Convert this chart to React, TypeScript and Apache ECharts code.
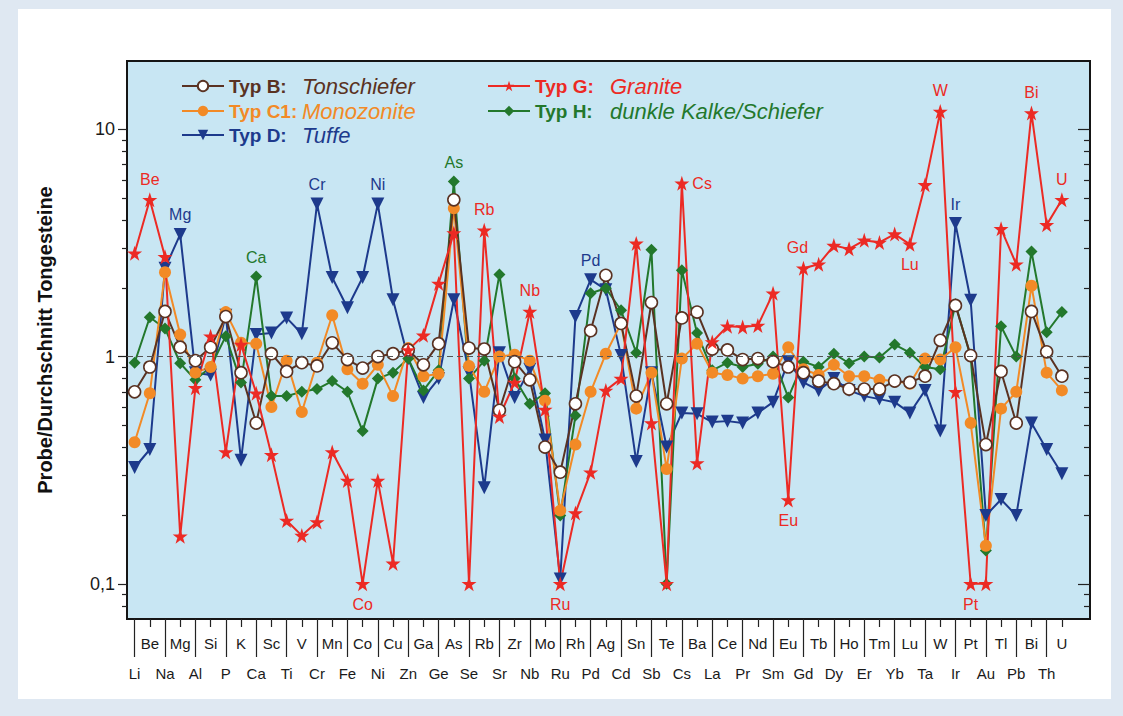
import React, { useEffect, useRef } from 'react';
import * as echarts from 'echarts';

const elements = ['Li','Be','Na','Mg','Al','Si','P','K','Ca','Sc','Ti','V','Cr','Mn','Fe','Co','Ni','Cu','Zn','Ga','Ge','As','Se','Rb','Sr','Zr','Nb','Mo','Ru','Rh','Pd','Ag','Cd','Sn','Sb','Te','Cs','Ba','La','Ce','Pr','Nd','Sm','Eu','Gd','Tb','Dy','Ho','Er','Tm','Yb','Lu','Ta','W','Ir','Pt','Au','Tl','Pb','Bi','Th','U'];

// Typ B: Tonschiefer
const typB = [0.70,0.90,1.58,1.10,0.96,1.10,1.50,0.85,0.51,1.03,0.86,0.94,0.91,1.15,0.97,0.89,1.00,1.03,1.07,0.92,1.14,4.9,1.09,1.08,0.58,0.95,0.79,0.40,0.31,0.62,1.30,2.28,1.40,0.67,1.73,0.62,1.48,1.57,1.08,1.07,0.97,0.98,0.95,0.90,0.85,0.78,0.76,0.72,0.72,0.72,0.78,0.77,0.82,1.18,1.68,1.01,0.41,0.86,0.51,1.58,1.05,0.82];
// Typ C1: Monozonite
const typC1 = [0.42,0.69,2.35,1.25,0.85,0.90,1.57,1.15,1.14,0.60,0.96,0.57,0.94,1.52,0.88,0.76,0.92,0.67,1.09,0.82,0.84,4.5,0.91,0.70,1.00,1.02,0.96,0.64,0.21,0.41,0.70,1.03,1.40,0.59,0.85,0.32,0.98,1.14,0.85,0.83,0.80,0.82,0.84,1.10,0.88,0.83,0.92,0.82,0.82,0.79,0.78,0.76,0.98,0.97,1.10,0.51,0.147,0.59,0.70,2.05,0.85,0.71];
// Typ D: Tuffe
const typD = [0.325,0.39,2.45,3.45,0.85,0.83,1.52,0.35,1.25,1.27,1.48,1.26,4.7,2.23,1.64,2.23,4.7,1.78,0.98,0.66,0.80,1.78,0.85,0.265,1.04,0.66,0.88,0.43,0.105,1.5,2.18,1.97,1.01,0.345,0.85,0.40,0.565,0.56,0.515,0.52,0.51,0.565,0.63,0.95,0.77,0.71,0.80,0.71,0.67,0.65,0.63,0.565,0.71,0.47,3.85,1.77,0.20,0.235,0.20,0.51,0.39,0.305];
// Typ G: Granite
const typG = [2.85,4.9,2.75,0.162,0.73,1.23,0.38,1.13,0.69,0.37,0.19,0.163,0.187,0.38,0.285,0.10,0.285,0.123,1.07,1.24,2.1,3.5,0.10,3.6,0.545,0.77,1.58,0.585,0.10,0.205,0.31,0.71,0.80,3.15,0.51,0.10,5.8,0.34,1.16,1.36,1.35,1.37,1.9,0.234,2.45,2.55,3.08,2.98,3.25,3.18,3.46,3.12,5.7,12.0,0.70,0.10,0.10,3.65,2.55,11.8,3.8,4.9];
// Typ H: dunkle Kalke/Schiefer
const typH = [0.94,1.49,1.33,0.935,0.79,0.90,1.23,0.77,2.25,0.67,0.67,0.70,0.72,0.78,0.70,0.47,0.80,0.85,0.98,0.71,0.87,5.9,0.80,0.96,2.3,0.80,0.62,0.69,0.20,0.55,1.9,2.0,1.6,1.04,2.95,0.10,2.4,1.27,0.87,0.94,0.90,0.93,1.0,0.66,0.95,0.90,1.03,0.935,1.0,0.99,1.13,1.04,0.90,0.88,1.7,1.0,0.14,1.36,1.0,2.9,1.28,1.57];

const yMajor = [0.1, 1, 10];
const yMinor = [0.08, 0.09, 0.2, 0.3, 0.4, 0.5, 0.6, 0.7, 0.8, 0.9, 2, 3, 4, 5, 6, 7, 8, 9];

const labelsB: Record<string, string> = {};
const labelsC1: Record<string, string> = {};
const labelsD: Record<string, string> = { Mg: 'top', Cr: 'top', Ni: 'top', Pd: 'top', Ir: 'top' };
const labelsG: Record<string, string> = { Be: 'top', Co: 'bottom', Rb: 'top', Nb: 'top', Ru: 'bottom', Cs: 'right', Gd: 'top', Eu: 'bottom', Lu: 'bottom', W: 'top', Pt: 'bottom', Bi: 'top', U: 'top' };
const labelsH: Record<string, string> = { Ca: 'top', As: 'top' };

const FONT = 'Liberation Sans, Arial, Helvetica, sans-serif';
const STAR = 'path://M50,2 L61.8,37.6 L99,37.6 L69,59.6 L80.4,95 L50,73.2 L19.6,95 L31,59.6 L1,37.6 L38.2,37.6 Z';

const C_B = '#5a3222';
const C_C1 = '#f28a26';
const C_D = '#1d3a8c';
const C_G = '#ec2a24';
const C_H = '#23782c';

const topIdx = elements.map((_, i) => i).filter((i) => i % 2 === 1);
const bottomIdx = elements.map((_, i) => i).filter((i) => i % 2 === 0);

function buildData(values: number[], labels: Record<string, string>, color: string) {
  return values.map((v, i) => {
    const el = elements[i];
    const item: any = { value: [i, v] };
    const pos = labels[el];
    if (pos) {
      item.label = {
        show: true,
        position: pos,
        formatter: el,
        color,
        fontSize: 16,
        fontFamily: FONT,
        distance: pos === 'right' ? 3 : 5,
        offset: el === 'Gd' ? [-6, 0] : [0, 0],
      };
    }
    return item;
  });
}

function legendFor(name: string, bold: string, desc: string, color: string, left: number, top: number, boldW: number) {
  return {
    data: [name],
    left,
    top,
    orient: 'horizontal',
    itemWidth: 42,
    itemHeight: 13,
    selectedMode: false,
    formatter: () => `{a|${bold}}{b|${desc}}`,
    textStyle: {
      fontFamily: FONT,
      rich: {
        a: { fontWeight: 'bold', color, fontSize: 19, width: boldW, fontFamily: FONT },
        b: { fontStyle: 'italic', color, fontSize: 22, fontFamily: FONT },
      },
    },
  };
}

export default function App() {
  const ref = useRef<HTMLDivElement>(null);
  useEffect(() => {
    if (!ref.current) return;
    const chart = echarts.init(ref.current, undefined, { renderer: 'svg' });
    const yCommon = { type: 'log', min: 0.07, max: 20, logBase: 10, splitLine: { show: false } };
    const xCommon = { type: 'value', min: -0.5, max: 62.85, splitLine: { show: false }, position: 'bottom' };
    const option: any = {
      animation: false,
      backgroundColor: 'transparent',
      textStyle: { fontFamily: FONT },
      grid: {
        left: 127, top: 61, width: 963, height: 558,
        show: true, backgroundColor: '#c8e6f3', borderColor: '#151515', borderWidth: 2,
      },
      legend: [
        legendFor('Typ B', 'Typ B:', 'Tonschiefer', C_B, 176, 70, 73),
        legendFor('Typ C1', 'Typ C1:', 'Monozonite', C_C1, 176, 95, 73),
        legendFor('Typ D', 'Typ D:', 'Tuffe', C_D, 176, 119, 73),
        legendFor('Typ G', 'Typ G:', 'Granite', C_G, 482, 70, 75),
        legendFor('Typ H', 'Typ H:', 'dunkle Kalke/Schiefer', C_H, 482, 95, 75),
      ],
      xAxis: [
        {
          ...xCommon,
          axisLine: { show: true, onZero: false, lineStyle: { color: '#151515', width: 2 } },
          axisTick: { show: true, customValues: topIdx, length: 8, lineStyle: { color: '#222', width: 1.2 } },
          axisLabel: { customValues: topIdx, formatter: (v: number) => elements[Math.round(v)] || '', margin: 17, fontSize: 15, color: '#1a1a1a', fontFamily: FONT },
        },
        {
          ...xCommon,
          axisLine: { show: false, onZero: false },
          axisTick: { show: true, customValues: bottomIdx, length: 38, lineStyle: { color: '#222', width: 1.2 } },
          axisLabel: { customValues: bottomIdx, formatter: (v: number) => elements[Math.round(v)] || '', margin: 47, fontSize: 15, color: '#1a1a1a', fontFamily: FONT },
        },
      ],
      yAxis: [
        {
          ...yCommon, position: 'left',
          name: 'Probe/Durchschnitt Tongesteine', nameLocation: 'middle', nameGap: 72,
          nameTextStyle: { fontWeight: 'bold', fontSize: 20, color: '#111', fontFamily: FONT },
          axisLine: { show: true, onZero: false, lineStyle: { color: '#151515', width: 2 } },
          axisTick: { show: true, customValues: yMajor, length: 9, lineStyle: { color: '#222', width: 1.2 } },
          axisLabel: { customValues: yMajor, margin: 12, fontSize: 18, color: '#1a1a1a', fontFamily: FONT,
            formatter: (v: number) => (v < 0.5 ? '0,1' : String(Math.round(v))) },
        },
        {
          ...yCommon, position: 'left',
          axisLine: { show: false, onZero: false },
          axisTick: { show: true, customValues: yMinor, length: 5, lineStyle: { color: '#222', width: 1.2 } },
          axisLabel: { show: false },
        },
        {
          ...yCommon, position: 'right',
          axisLine: { show: false, onZero: false },
          axisTick: { show: true, inside: true, customValues: yMajor, length: 12, lineStyle: { color: '#222', width: 1.2 } },
          axisLabel: { show: false },
        },
        {
          ...yCommon, position: 'right',
          axisLine: { show: false, onZero: false },
          axisTick: { show: true, inside: true, customValues: yMinor, length: 6, lineStyle: { color: '#222', width: 1.2 } },
          axisLabel: { show: false },
        },
      ],
      series: [
        {
          name: 'Typ D', type: 'line', data: buildData(typD, labelsD, C_D), showAllSymbol: true,
          symbol: 'triangle', symbolRotate: 180, symbolSize: 13,
          lineStyle: { color: C_D, width: 2 }, itemStyle: { color: C_D },
        },
        {
          name: 'Typ H', type: 'line', data: buildData(typH, labelsH, C_H), showAllSymbol: true,
          symbol: 'diamond', symbolSize: 12,
          lineStyle: { color: C_H, width: 2 }, itemStyle: { color: C_H },
        },
        {
          name: 'Typ C1', type: 'line', data: buildData(typC1, labelsC1, C_C1), showAllSymbol: true,
          symbol: 'circle', symbolSize: 12,
          lineStyle: { color: C_C1, width: 2 }, itemStyle: { color: C_C1 },
        },
        {
          name: 'Typ B', type: 'line', data: buildData(typB, labelsB, C_B), showAllSymbol: true,
          symbol: 'circle', symbolSize: 12,
          lineStyle: { color: C_B, width: 2 }, itemStyle: { color: '#ffffff', borderColor: C_B, borderWidth: 1.6 },
          markLine: {
            silent: true, symbol: ['none', 'none'], label: { show: false },
            lineStyle: { type: [6, 4], color: '#555', width: 1.2 },
            data: [{ yAxis: 1 }],
          },
        },
        {
          name: 'Typ G', type: 'line', data: buildData(typG, labelsG, C_G), showAllSymbol: true,
          symbol: STAR, symbolSize: 15,
          lineStyle: { color: C_G, width: 2 }, itemStyle: { color: C_G },
        },
      ],
    };
    chart.setOption(option);
    return () => chart.dispose();
  }, []);

  return (
    <div style={{ position: 'fixed', left: 0, top: 0, width: 1123, height: 716, background: '#dfe8f2' }}>
      <div style={{ position: 'absolute', left: 18, top: 9, width: 1093, height: 690, background: '#ffffff' }} />
      <div ref={ref} style={{ position: 'absolute', left: 0, top: 0, width: 1123, height: 716 }} />
    </div>
  );
}
